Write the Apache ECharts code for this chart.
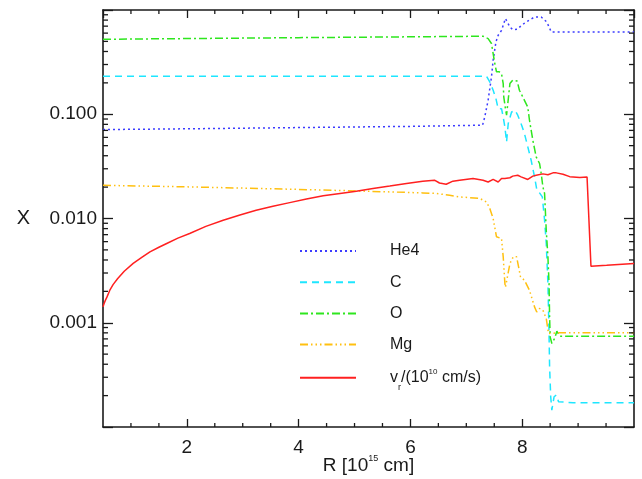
<!DOCTYPE html>
<html>
<head>
<meta charset="utf-8">
<script src="https://cdn.jsdelivr.net/npm/echarts@6/dist/echarts.min.js"></script>
<style>
html,body{margin:0;padding:0;background:#fff;}
#chart{width:642px;height:479px;}
</style>
</head>
<body>
<div id="chart"></div>
<script>
// ---- data (R in 1e15 cm, X mass fraction) ----
const seriesNames = ['He4', 'C', 'O', 'Mg', 'vr'];
const he4Data = [[0.5,0.0713],[2,0.0725],[4,0.0745],[6,0.0765],[7.29,0.0785],[7.33,0.0942],[7.39,0.136],[7.45,0.228],[7.48,0.330],[7.53,0.494],[7.57,0.572],[7.63,0.638],[7.66,0.713],[7.70,0.827],[7.78,0.687],[7.83,0.649],[7.91,0.653],[7.99,0.713],[8.07,0.767],[8.22,0.857],[8.34,0.857],[8.44,0.767],[8.52,0.615],[8.61,0.615],[10,0.615]];
const cData = [[0.5,0.232],[7.36,0.232],[7.42,0.204],[7.48,0.170],[7.53,0.141],[7.57,0.113],[7.63,0.113],[7.66,0.094],[7.69,0.0755],[7.72,0.0542],[7.75,0.0815],[7.81,0.105],[7.87,0.109],[7.92,0.098],[7.99,0.0785],[8.04,0.0653],[8.10,0.0486],[8.16,0.0362],[8.22,0.0251],[8.26,0.0191],[8.31,0.0176],[8.36,0.0161],[8.40,0.00963],[8.43,0.00576],[8.46,0.00238],[8.48,0.000789],[8.49,0.000378],[8.51,0.000195],[8.53,0.000145],[8.57,0.000195],[8.61,0.000202],[8.65,0.000175],[8.91,0.000171],[10,0.000171]];
const oData = [[0.5,0.524],[2,0.532],[4,0.543],[6,0.553],[7.30,0.560],[7.39,0.532],[7.45,0.477],[7.48,0.382],[7.51,0.306],[7.54,0.255],[7.59,0.255],[7.63,0.245],[7.66,0.197],[7.67,0.147],[7.70,0.113],[7.72,0.098],[7.78,0.197],[7.83,0.212],[7.91,0.208],[7.95,0.170],[8.04,0.136],[8.10,0.117],[8.13,0.0876],[8.19,0.0564],[8.25,0.039],[8.31,0.0337],[8.34,0.027],[8.37,0.0201],[8.40,0.0174],[8.43,0.00773],[8.46,0.00429],[8.48,0.00238],[8.49,0.00114],[8.50,0.000733],[8.53,0.000633],[8.58,0.000707],[8.62,0.00083],[8.67,0.000744],[10,0.000744]];
const mgData = [[0.5,0.0208],[2.05,0.0201],[3.84,0.0191],[5.03,0.0184],[6.22,0.0176],[6.46,0.0174],[6.70,0.0167],[6.88,0.0161],[7.24,0.0156],[7.36,0.0144],[7.42,0.0125],[7.48,0.0100],[7.54,0.00667],[7.63,0.00643],[7.66,0.00429],[7.69,0.00238],[7.70,0.00218],[7.78,0.0037],[7.84,0.00429],[7.90,0.00429],[7.97,0.00275],[8.04,0.00256],[8.13,0.00205],[8.22,0.00142],[8.26,0.00127],[8.31,0.00137],[8.37,0.00132],[8.43,0.0011],[8.47,0.000789],[8.50,0.00078],[8.67,0.0008],[10,0.0008]];
const vrData = [[0.5,0.00142],[0.52,0.00153],[0.54,0.00163],[0.57,0.00176],[0.62,0.00204],[0.68,0.00232],[0.76,0.00264],[0.88,0.00312],[1.04,0.00371],[1.2,0.00426],[1.34,0.00479],[1.5,0.00530],[1.64,0.00576],[1.84,0.00648],[2.05,0.00718],[2.34,0.00840],[2.65,0.00963],[2.95,0.0108],[3.24,0.0120],[3.54,0.0131],[3.84,0.0142],[4.14,0.0154],[4.44,0.0165],[4.74,0.0174],[5.03,0.0183],[5.33,0.0194],[5.63,0.0205],[5.93,0.0217],[6.22,0.0228],[6.43,0.0233],[6.52,0.0219],[6.64,0.0213],[6.76,0.0228],[6.88,0.0233],[7.12,0.0242],[7.30,0.0233],[7.39,0.0224],[7.48,0.0237],[7.57,0.0224],[7.63,0.0242],[7.69,0.0242],[7.78,0.0246],[7.83,0.0255],[7.92,0.026],[7.98,0.0251],[8.10,0.0237],[8.19,0.0255],[8.25,0.026],[8.37,0.0268],[8.46,0.0263],[8.55,0.0274],[8.61,0.0274],[8.73,0.0266],[8.85,0.0252],[9.03,0.0248],[9.16,0.025],[9.18,0.0245],[9.23,0.00349],[9.51,0.00356],[10,0.0037]];

// ---- axes ----
const xRange = [0.5, 10];
const yRange = [1e-4, 1];
const xTickLabels = [2, 4, 6, 8];
const yTickValues = [0.001, 0.01, 0.1];
const yTickLabels = ['0.001', '0.010', '0.100'];
const xMinorTicks = [1, 1.5, 2.5, 3, 3.5, 4.5, 5, 5.5, 6.5, 7, 7.5, 8.5, 9, 9.5];
const yMinorTicks = [2e-4,3e-4,4e-4,5e-4,6e-4,7e-4,8e-4,9e-4,
                     2e-3,3e-3,4e-3,5e-3,6e-3,7e-3,8e-3,9e-3,
                     2e-2,3e-2,4e-2,5e-2,6e-2,7e-2,8e-2,9e-2,
                     0.2,0.3,0.4,0.5,0.6,0.7,0.8,0.9];

const FONT = '"Liberation Sans", Arial, Helvetica, sans-serif';
const AX = '#1a1a1a';

const chart = echarts.init(document.getElementById('chart'), null, {renderer: 'canvas'});

function yLabel(v) {
  for (let i = 0; i < yTickValues.length; i++) {
    if (Math.abs(v - yTickValues[i]) / yTickValues[i] < 1e-6) return yTickLabels[i];
  }
  return '';
}
function xLabel(v) {
  for (let i = 0; i < xTickLabels.length; i++) {
    if (Math.abs(v - xTickLabels[i]) < 1e-6) return String(xTickLabels[i]);
  }
  return '';
}

const lineStyles = {
  He4: {color: '#3c3cff', width: 1.5, type: [2, 3]},
  C:   {color: '#1ee6ff', width: 1.5, type: [7, 5]},
  O:   {color: '#2ee61e', width: 1.5, type: [8, 3, 2, 3]},
  Mg:  {color: '#ffc010', width: 1.5, type: [8, 3, 1.5, 3, 1.5, 3, 1.5, 3]},
  vr:  {color: '#ff2020', width: 1.5, type: 'solid'}
};
const dataMap = {He4: he4Data, C: cData, O: oData, Mg: mgData, vr: vrData};

const lineSeries = seriesNames.map(n => ({
  name: n,
  type: 'line',
  data: dataMap[n],
  xAxisIndex: 0,
  yAxisIndex: 0,
  showSymbol: false,
  symbol: 'none',
  smooth: false,
  clip: true,
  lineStyle: lineStyles[n],
  itemStyle: {color: lineStyles[n].color},
  emphasis: {disabled: true}
}));

function tickSeries(name, data, size, offset) {
  return {
    name: name, type: 'scatter', xAxisIndex: 0, yAxisIndex: 0, silent: true, clip: false,
    symbol: 'rect', symbolSize: size, symbolOffset: offset,
    itemStyle: {color: AX, opacity: 1},
    emphasis: {disabled: true},
    data: data, z: 5
  };
}

const option = {
  animation: false,
  backgroundColor: '#fff',
  textStyle: {fontFamily: FONT},
  grid: {left: 103, top: 10, right: 8, bottom: 52, containLabel: false, outerBoundsMode: 'none'},
  legend: {
    orient: 'vertical',
    left: 299,
    top: 243,
    padding: 0,
    itemWidth: 56,
    itemHeight: 16,
    itemGap: 15.2,
    selectedMode: false,
    data: seriesNames,
    itemStyle: {opacity: 0},
    formatter: function (n) {
      if (n === 'vr') return 'v{sub|r}/(10{sup|10} cm/s)';
      return n;
    },
    textStyle: {
      fontFamily: FONT, fontSize: 16, color: '#1a1a1a', lineHeight: 16,
      padding: [0, 0, 0, 29],
      rich: {
        sub: {fontSize: 9, fontFamily: FONT, color: '#1a1a1a', verticalAlign: 'bottom', lineHeight: 16, padding: [0, 0, -6, 0]},
        sup: {fontSize: 8, fontFamily: FONT, color: '#1a1a1a', verticalAlign: 'top', lineHeight: 16, padding: [-2, 0, 0, 0]}
      }
    }
  },
  xAxis: [
    {
      type: 'value', position: 'bottom', min: xRange[0], max: xRange[1], splitNumber: 5,
      name: 'R [10{sup|15} cm]', nameLocation: 'middle', nameGap: 29, nameMoveOverlap: false,
      nameTextStyle: {fontFamily: FONT, fontSize: 19, color: '#1a1a1a',
        rich: {sup: {fontSize: 9, fontFamily: FONT, color: '#1a1a1a', verticalAlign: 'top', padding: [-2, 0, 0, 0]}}},
      axisLine: {show: true, onZero: false, lineStyle: {color: AX, width: 1.6}},
      axisTick: {show: true, inside: true, length: 8, lineStyle: {color: AX, width: 1.3}},
      axisLabel: {show: true, formatter: xLabel, fontFamily: FONT, fontSize: 19, color: '#1a1a1a', margin: 11, showMinLabel: false, showMaxLabel: false},
      splitLine: {show: false}
    },
    {
      type: 'value', position: 'top', min: xRange[0], max: xRange[1], splitNumber: 5,
      axisLine: {show: true, onZero: false, lineStyle: {color: AX, width: 1.6}},
      axisTick: {show: true, inside: true, length: 8, lineStyle: {color: AX, width: 1.3}},
      axisLabel: {show: false},
      splitLine: {show: false}
    }
  ],
  yAxis: [
    {
      type: 'log', logBase: 10, position: 'left', min: yRange[0], max: yRange[1],
      name: 'X', nameLocation: 'middle', nameRotate: 0, nameGap: 73, nameMoveOverlap: false,
      nameTextStyle: {fontFamily: FONT, fontSize: 20, color: '#1a1a1a'},
      axisLine: {show: true, onZero: false, lineStyle: {color: AX, width: 1.6}},
      axisTick: {show: true, inside: true, length: 10, lineStyle: {color: AX, width: 1.3}},
      axisLabel: {show: true, formatter: yLabel, fontFamily: FONT, fontSize: 19, color: '#1a1a1a', margin: 6},
      minorTick: {show: false},
      splitLine: {show: false}
    },
    {
      type: 'log', logBase: 10, position: 'right', min: yRange[0], max: yRange[1],
      axisLine: {show: true, onZero: false, lineStyle: {color: AX, width: 1.6}},
      axisTick: {show: true, inside: true, length: 10, lineStyle: {color: AX, width: 1.3}},
      axisLabel: {show: false},
      splitLine: {show: false}
    }
  ],
  series: lineSeries.concat([
    tickSeries('yMinorL', yMinorTicks.map(v => [xRange[0], v]), [5, 1.3], [2.5, 0]),
    tickSeries('yMinorR', yMinorTicks.map(v => [xRange[1], v]), [5, 1.3], [-2.5, 0]),
    tickSeries('xMinorB', xMinorTicks.map(v => [v, yRange[0]]), [1.3, 4], [0, -2]),
    tickSeries('xMinorT', xMinorTicks.map(v => [v, yRange[1]]), [1.3, 4], [0, 2])
  ])
};
chart.setOption(option);
</script>
</body>
</html>
